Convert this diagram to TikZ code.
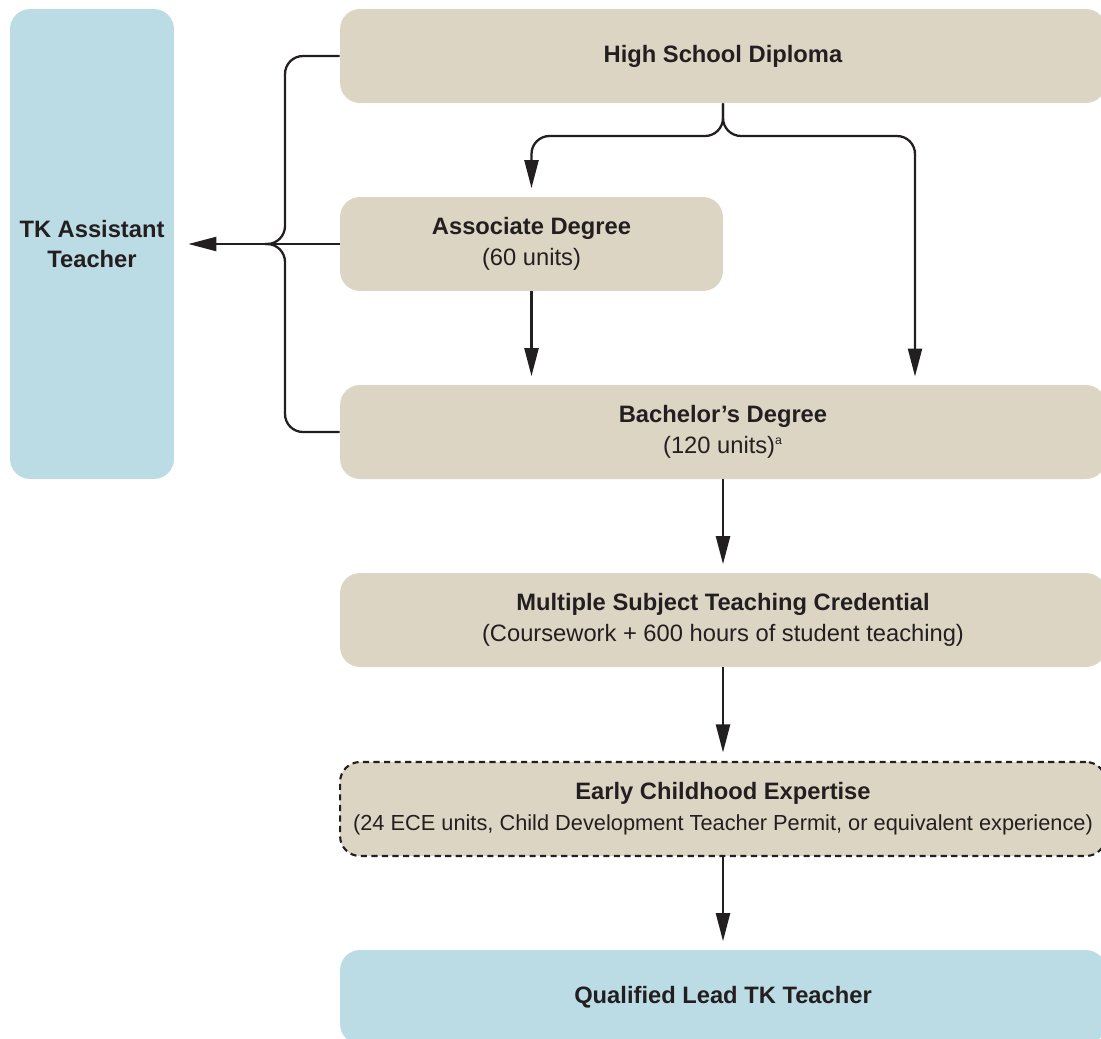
\documentclass[tikz,border=0pt]{standalone}
\usepackage{fontspec}
\setmainfont{Liberation Sans}
\usetikzlibrary{arrows.meta}
\definecolor{boxtan}{RGB}{221,213,196}
\definecolor{paleblue}{RGB}{187,220,228}
\definecolor{ink}{RGB}{35,31,32}

\begin{document}
\begin{tikzpicture}[x=0.02cm,y=-0.02cm,
  box/.style={rounded corners=0.4cm,align=center,text=ink,inner sep=0pt,
    font=\fontsize{13.5}{17.6}\selectfont},
  tanbox/.style={box,fill=boxtan,minimum width=15.32cm,minimum height=1.88cm},
  bluebox/.style={box,fill=paleblue},
  link/.style={draw=ink,line width=1.3pt,rounded corners=0.36cm},
  arr/.style={link,-{Triangle[length=0.56cm,width=0.28cm]},shorten >=0.17cm}]
\useasboundingbox (0,0) rectangle (1101,1038);

\node[bluebox,minimum width=3.28cm,minimum height=9.4cm] (assist) at (92,244) {\textbf{TK Assistant}\\\textbf{Teacher}};
\node[tanbox] (hsd) at (723,56) {\textbf{High School Diploma}};
\node[tanbox,minimum width=7.66cm] (assoc) at (531.5,244) {\textbf{Associate Degree}\\(60 units)};
\node[tanbox] (bach) at (723,432) {\textbf{Bachelor’s Degree}\\(120 units)\textsuperscript{\scriptsize a}};
\node[tanbox] (mult) at (723,620) {\textbf{Multiple Subject Teaching Credential}\\(Coursework + 600 hours of student teaching)};
\node[tanbox,draw=ink,line width=1.2pt,dash pattern=on 3.5pt off 2.5pt] (early) at (723,809) {\textbf{Early Childhood Expertise}\\{\fontsize{12.4}{17.6}\selectfont(24 ECE units, Child Development Teacher Permit, or equivalent experience)}};
\node[bluebox,minimum width=15.32cm,minimum height=1.88cm] (qual) at (723,997) {\textbf{Qualified Lead TK Teacher}};

\coordinate (jl) at (285,244);
\draw[link] (hsd.west) -| (jl) -- ++(-20,0);
\draw[link] (bach.west) -| (jl) -- ++(-20,0);
\draw[arr,shorten >=0.28cm] (assoc.west) -- (assist.east);

\coordinate (split) at (723,136);
\coordinate (bachtop) at (915,385);
\draw[arr] (hsd.south) -- (split) -| (assoc.north);
\draw[arr] (hsd.south) -- (split) -| (bachtop);

\draw[arr] (assoc.south) -- (assoc.south |- bach.north);
\draw[arr] (bach.south) -- (mult.north);
\draw[arr] (mult.south) -- (early.north);
\draw[arr] (early.south) -- (qual.north);
\end{tikzpicture}
\end{document}
